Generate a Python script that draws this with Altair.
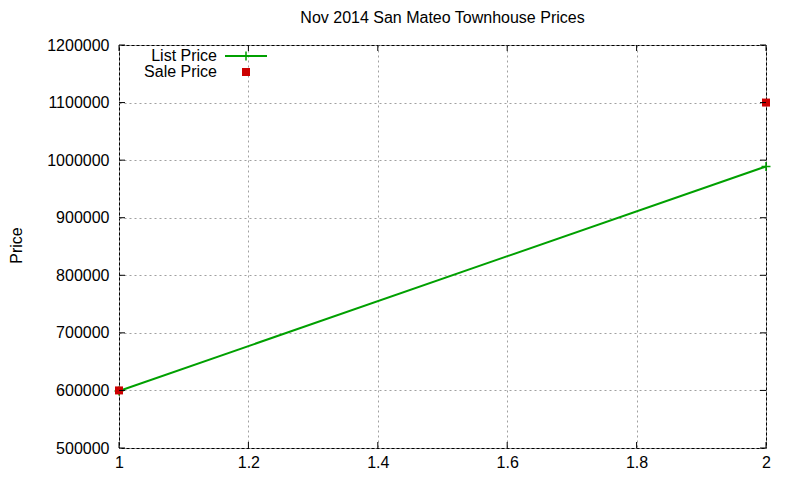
import altair as alt
import pandas as pd

# ---- data ----
x_values = [1, 2]
list_price = [599000, 989000]
sale_price = [600000, 1100000]
series_names = ["List Price", "Sale Price"]
x_ticks = [1, 1.2, 1.4, 1.6, 1.8, 2]
y_ticks = [500000, 600000, 700000, 800000, 900000, 1000000, 1100000, 1200000]
title_text = "Nov 2014 San Mateo Townhouse Prices"
y_title = "Price"

GREEN = "#00a000"
RED = "#cc0000"
FONT = "Liberation Sans"
W, H = 647, 403

list_df = pd.DataFrame({"x": x_values, "price": list_price})
sale_df = pd.DataFrame({"x": x_values, "price": sale_price})
xt_df = pd.DataFrame({"x": x_ticks})
yt_df = pd.DataFrame({"price": y_ticks})

xscale = alt.Scale(domain=[1, 2], nice=False, zero=False)
yscale = alt.Scale(domain=[500000, 1200000], nice=False, zero=False)

x_axis = alt.Axis(values=x_ticks, format="~g", grid=True, gridDash=[2, 3],
                  gridColor="#a0a0a0", gridWidth=1, ticks=False, domain=False,
                  labelFont=FONT, labelFontSize=16, labelColor="black",
                  labelPadding=6, title=None, labelFlush=False)
y_axis = alt.Axis(values=y_ticks, format="d", grid=True, gridDash=[2, 3],
                  gridColor="#a0a0a0", gridWidth=1, ticks=False, domain=False,
                  labelFont=FONT, labelFontSize=16, labelColor="black",
                  labelPadding=10, title=y_title, titleFont=FONT,
                  titleFontSize=16, titleFontWeight="normal", titleColor="black",
                  titleX=-103, titleY=200, titleAngle=270, titleAlign="center",
                  titleBaseline="middle", labelFlush=False)

base_x = alt.X("x:Q", scale=xscale, axis=x_axis)
base_y = alt.Y("price:Q", scale=yscale, axis=y_axis)

list_line = alt.Chart(list_df).mark_line(color=GREEN, strokeWidth=2, clip=False).encode(
    x=base_x, y=base_y)

plus_shape = "M-1,0L1,0M0,-1L0,1"
list_pts = alt.Chart(list_df).mark_point(shape=plus_shape, filled=False, color=GREEN,
                                         strokeWidth=1.5, size=80, opacity=1,
                                         clip=False).encode(
    x=alt.X("x:Q", scale=xscale), y=alt.Y("price:Q", scale=yscale))

sale_pts = alt.Chart(sale_df).mark_point(shape="square", filled=True, color=RED,
                                         size=64, opacity=1, clip=False).encode(
    x=alt.X("x:Q", scale=xscale), y=alt.Y("price:Q", scale=yscale))

# inward tick marks (gnuplot style, mirrored)
tick_style = dict(color="black", strokeWidth=1)
xt_bottom = alt.Chart(xt_df).mark_rule(**tick_style).encode(
    x=alt.X("x:Q", scale=xscale), y=alt.value(H), y2=alt.value(H - 6))
xt_top = alt.Chart(xt_df).mark_rule(**tick_style).encode(
    x=alt.X("x:Q", scale=xscale), y=alt.value(0), y2=alt.value(6))
yt_left = alt.Chart(yt_df).mark_rule(**tick_style).encode(
    y=alt.Y("price:Q", scale=yscale), x=alt.value(0), x2=alt.value(6))
yt_right = alt.Chart(yt_df).mark_rule(**tick_style).encode(
    y=alt.Y("price:Q", scale=yscale), x=alt.value(W), x2=alt.value(W - 6))

# legend (gnuplot style: label then sample)
one = pd.DataFrame({"k": [0]})
leg_txt1 = alt.Chart(one).mark_text(align="right", baseline="middle", font=FONT,
                                    fontSize=16, color="black").encode(
    x=alt.value(98), y=alt.value(11), text=alt.value(series_names[0]))
leg_txt2 = alt.Chart(one).mark_text(align="right", baseline="middle", font=FONT,
                                    fontSize=16, color="black").encode(
    x=alt.value(98), y=alt.value(27), text=alt.value(series_names[1]))
leg_line = alt.Chart(one).mark_rule(color=GREEN, strokeWidth=2).encode(
    x=alt.value(106), x2=alt.value(148), y=alt.value(11))
leg_plus = alt.Chart(one).mark_point(shape=plus_shape, filled=False, color=GREEN,
                                     strokeWidth=1.5, size=80, opacity=1).encode(
    x=alt.value(127), y=alt.value(11))
leg_sq = alt.Chart(one).mark_point(shape="square", filled=True, color=RED,
                                   size=64, opacity=1).encode(
    x=alt.value(127), y=alt.value(27))

chart = alt.layer(
    list_line, list_pts, sale_pts, xt_bottom, xt_top, yt_left, yt_right,
    leg_txt1, leg_txt2, leg_line, leg_plus, leg_sq
).properties(
    width=W, height=H,
    title=alt.TitleParams(title_text, font=FONT, fontSize=16, fontWeight="normal",
                          color="black", anchor="middle", offset=11),
    autosize=alt.AutoSizeParams(type="none"),
    padding={"left": 111, "top": 37, "right": 26, "bottom": 24},
    background="white",
).configure_view(stroke="black", strokeWidth=1)

chart.save("out.html", embed_options={"renderer": "svg", "actions": False})
